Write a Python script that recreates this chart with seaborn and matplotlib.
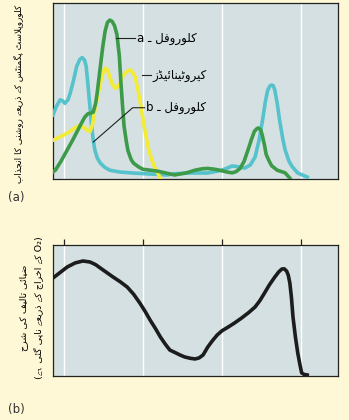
import matplotlib
matplotlib.use('Agg')
import matplotlib.pyplot as plt
from matplotlib import font_manager, ft2font
import pandas as pd
import seaborn as sns

# (a) absorption spectra: wavelength (nm) vs relative absorbance
chl_a_nm = [386, 389, 396, 404, 412, 420, 426, 430, 434, 437, 440, 442, 446, 449, 452, 455, 458, 461, 464, 467,
            470, 472, 474, 476, 479, 481, 485, 488, 494, 500, 518, 540, 555, 566, 575, 582, 590, 597, 606, 613,
            618, 623, 628, 633, 637, 641, 644, 646, 649, 651, 654, 656, 660, 663, 670, 680, 686]
chl_a_abs = [0.04, 0.05, 0.10, 0.165, 0.23, 0.30, 0.35, 0.37, 0.375, 0.38, 0.43, 0.49, 0.64, 0.75, 0.84, 0.89,
             0.903, 0.895, 0.87, 0.82, 0.70, 0.55, 0.42, 0.30, 0.21, 0.16, 0.11, 0.09, 0.07, 0.055, 0.045, 0.023,
             0.035, 0.05, 0.058, 0.06, 0.056, 0.05, 0.04, 0.035, 0.042, 0.06, 0.10, 0.165, 0.22, 0.27, 0.285,
             0.29, 0.28, 0.25, 0.19, 0.14, 0.10, 0.075, 0.05, 0.035, 0.005]

chl_b_nm = [386, 390, 395, 398, 401, 405, 408, 412, 416, 420, 423, 426, 428, 430, 433, 435, 437, 439, 442, 446,
            452, 458, 470, 487, 510, 530, 540, 560, 582, 600, 613, 620, 629, 636, 642, 647, 652, 655, 658, 661,
            663, 665, 667, 670, 673, 677, 680, 685, 689, 696, 708]
chl_b_abs = [0.364, 0.41, 0.45, 0.445, 0.43, 0.45, 0.49, 0.56, 0.64, 0.68, 0.69, 0.675, 0.64, 0.55, 0.40, 0.30,
             0.22, 0.165, 0.12, 0.09, 0.065, 0.05, 0.04, 0.034, 0.028, 0.023, 0.03, 0.034, 0.034, 0.05, 0.074,
             0.07, 0.062, 0.08, 0.125, 0.22, 0.35, 0.44, 0.505, 0.53, 0.534, 0.53, 0.505, 0.43, 0.335, 0.23,
             0.165, 0.10, 0.07, 0.034, 0.011]

carot_nm = [386, 395, 404, 412, 420, 426, 430, 433, 436, 439, 443, 446, 449, 452, 455, 458, 461, 465, 468, 471,
            474, 477, 481, 484, 487, 490, 493, 496, 500, 503, 507, 511, 515, 518, 522]
carot_abs = [0.22, 0.24, 0.26, 0.285, 0.305, 0.29, 0.275, 0.27, 0.31, 0.39, 0.48, 0.545, 0.60, 0.63, 0.62, 0.58,
             0.54, 0.515, 0.525, 0.545, 0.58, 0.60, 0.615, 0.62, 0.605, 0.58, 0.52, 0.45, 0.34, 0.26, 0.17, 0.11,
             0.065, 0.04, 0.005]

# (b) action spectrum: rate of photosynthesis
rate_nm = [386, 395, 404, 414, 424, 433, 440, 446, 454, 462, 471, 480, 488, 496, 503, 509, 516, 522, 528, 534,
           541, 547, 553, 560, 566, 571, 576, 579, 582, 588, 594, 600, 608, 616, 625, 634, 642, 648, 654, 660,
           667, 672, 676, 679, 682, 684, 686, 688, 690, 693, 696, 699, 701, 704, 708]
rate_val = [0.748, 0.79, 0.832, 0.863, 0.878, 0.87, 0.85, 0.824, 0.79, 0.756, 0.72, 0.679, 0.625, 0.557, 0.49,
            0.427, 0.36, 0.298, 0.245, 0.198, 0.178, 0.16, 0.145, 0.135, 0.13, 0.138, 0.16, 0.19, 0.221, 0.27,
            0.313, 0.345, 0.374, 0.405, 0.443, 0.485, 0.527, 0.575, 0.634, 0.695, 0.756, 0.795, 0.817, 0.818,
            0.80, 0.77, 0.71, 0.60, 0.45, 0.30, 0.176, 0.08, 0.023, 0.012, 0.008]

grid_nm = [400, 500, 600, 700]

label_chl_a = 'کلوروفل ـ a'
label_chl_b = 'کلوروفل ـ b'
label_carot = 'کیروٹینائیڈز'
ylabel_a = 'کلوروپلاسٹ پگمنٹس کے ذریعے روشنی کا انجذاب'
ylabel_b1 = 'ضیائی تالیف کی شرح'
ylabel_b2 = 'O₂ کے اخراج کے ذریعے ناپی گئی ہے'

# matplotlib has no Arabic shaping, so pick presentation forms by hand
DUAL = {
    0x0628: (0xFE8F, 0xFE90, 0xFE91, 0xFE92), 0x067E: (0xFB56, 0xFB57, 0xFB58, 0xFB59),
    0x062A: (0xFE95, 0xFE96, 0xFE97, 0xFE98), 0x0679: (0xFB66, 0xFB67, 0xFB68, 0xFB69),
    0x062C: (0xFE9D, 0xFE9E, 0xFE9F, 0xFEA0), 0x062D: (0xFEA1, 0xFEA2, 0xFEA3, 0xFEA4),
    0x062E: (0xFEA5, 0xFEA6, 0xFEA7, 0xFEA8), 0x0633: (0xFEB1, 0xFEB2, 0xFEB3, 0xFEB4),
    0x0634: (0xFEB5, 0xFEB6, 0xFEB7, 0xFEB8), 0x0636: (0xFEBD, 0xFEBE, 0xFEBF, 0xFEC0),
    0x0639: (0xFEC9, 0xFECA, 0xFECB, 0xFECC), 0x0641: (0xFED1, 0xFED2, 0xFED3, 0xFED4),
    0x06A9: (0xFB8E, 0xFB8F, 0xFB90, 0xFB91), 0x06AF: (0xFB92, 0xFB93, 0xFB94, 0xFB95),
    0x0644: (0xFEDD, 0xFEDE, 0xFEDF, 0xFEE0), 0x0645: (0xFEE1, 0xFEE2, 0xFEE3, 0xFEE4),
    0x0646: (0xFEE5, 0xFEE6, 0xFEE7, 0xFEE8), 0x06C1: (0xFBA6, 0xFBA7, 0xFBA8, 0xFBA9),
    0x06BE: (0xFBAA, 0xFBAB, 0xFBAC, 0xFBAD), 0x06CC: (0xFBFC, 0xFBFD, 0xFBFE, 0xFBFF),
    0x0626: (0xFE89, 0xFE8A, 0xFE8B, 0xFE8C), 0x0647: (0xFEE9, 0xFEEA, 0xFEEB, 0xFEEC),
}
RIGHT = {
    0x0627: (0xFE8D, 0xFE8E), 0x062F: (0xFEA9, 0xFEAA), 0x0630: (0xFEAB, 0xFEAC),
    0x0631: (0xFEAD, 0xFEAE), 0x0632: (0xFEAF, 0xFEB0), 0x0688: (0xFB88, 0xFB89),
    0x0691: (0xFB8C, 0xFB8D), 0x0648: (0xFEED, 0xFEEE), 0x06D2: (0xFBAE, 0xFBAF),
}

# look for an installed face with the Urdu-only letters (heh goal, yeh barree)
fonts = [ft2font.FT2Font(font_manager.findfont('DejaVu Sans'))]
families = ['DejaVu Sans']
for entry in font_manager.fontManager.ttflist:
    if entry.name in families:
        continue
    try:
        ft = ft2font.FT2Font(entry.fname)
    except Exception:
        continue
    if ft.get_char_index(0x06D2) and ft.get_char_index(0x06C1):
        fonts.append(ft)
        families.append(entry.name)
        break


def has_glyph(cp):
    return any(f.get_char_index(cp) for f in fonts)


# closest Arabic letters when no face has the Urdu ones
SUBST = {0x06C1: 0x0647, 0x06D2: 0x06CC}


def shape_word(w):
    cps = [ord(c) for c in w]
    cps = [SUBST.get(c, c) if not has_glyph(c) else c for c in cps]
    out = []
    i = 0
    while i < len(cps):
        c = cps[i]
        prev = i > 0 and cps[i - 1] in DUAL and out[-1] != cps[i - 1]
        if c == 0x0644 and i + 1 < len(cps) and cps[i + 1] == 0x0627:
            out.append(0xFEFC if prev else 0xFEFB)
            i += 2
            continue
        if c in DUAL:
            nxt = i + 1 < len(cps) and (cps[i + 1] in DUAL or cps[i + 1] in RIGHT)
            f = DUAL[c]
            form = f[3] if prev and nxt else f[1] if prev else f[2] if nxt else f[0]
        elif c in RIGHT:
            form = RIGHT[c][1] if prev else RIGHT[c][0]
        else:
            form = c
        out.append(form if has_glyph(form) else c)
        i += 1
    return ''.join(chr(c) for c in reversed(out))


def rtl(text):
    vis = []
    for w in reversed(text.split(' ')):
        if any(0x0600 <= ord(ch) <= 0x06FF for ch in w):
            vis.append(shape_word(w))
        else:
            vis.append(w)
    return ' '.join(vis)


plt.rcParams['font.family'] = families

BG = '#fef8d6'
PANEL = '#d4e0e2'

fig = plt.figure(figsize=(3.49, 4.2), dpi=100, facecolor=BG)
ax_a = fig.add_axes([53 / 349, 1 - 179 / 420, 285 / 349, 176 / 420])
ax_b = fig.add_axes([53 / 349, 1 - 376 / 420, 285 / 349, 131 / 420])

spectra = [
    (chl_b_nm, chl_b_abs, '#55c2cc'),
    (carot_nm, carot_abs, '#f4ec34'),
    (chl_a_nm, chl_a_abs, '#3d9a49'),
]
for nm, val, col in spectra:
    df = pd.DataFrame({'nm': nm, 'val': val})
    sns.lineplot(data=df, x='nm', y='val', ax=ax_a, color=col, lw=2.6, estimator=None, sort=False, zorder=3)

df_b = pd.DataFrame({'nm': rate_nm, 'val': rate_val})
sns.lineplot(data=df_b, x='nm', y='val', ax=ax_b, color='#1c1c1c', lw=2.6, estimator=None, sort=False, zorder=3)

for ax in (ax_a, ax_b):
    ax.set_facecolor(PANEL)
    ax.set_xlim(386, 747)
    ax.set_ylim(0, 1)
    for g in grid_nm:
        ax.axvline(g, color='white', lw=1.0, zorder=1)
    ax.set_xlabel('')
    ax.set_ylabel('')
    ax.set_yticks([])
    for s in ax.spines.values():
        s.set_color('#222222')
        s.set_linewidth(0.9)

ax_a.set_xticks([])
ax_b.set_xticks(grid_nm)
ax_b.tick_params(axis='x', top=True, bottom=False, labeltop=False, labelbottom=False,
                 direction='out', length=4, width=0.9, color='#222222')

# leader lines and labels in panel (a)
line_kw = dict(color='#222222', lw=0.8)
ax_a.plot([466, 490], [0.80, 0.80], **line_kw, zorder=4)
ax_a.text(492, 0.80, rtl(label_chl_a), fontsize=8.5, va='center', ha='left')
ax_a.plot([499, 510], [0.59, 0.59], **line_kw, zorder=4)
ax_a.text(512, 0.59, rtl(label_carot), fontsize=8.5, va='center', ha='left')
ax_a.plot([437, 487, 502], [0.21, 0.405, 0.405], **line_kw, zorder=4)
ax_a.text(504, 0.405, rtl(label_chl_b), fontsize=8.5, va='center', ha='left')

fig.text(18 / 349, 1 - 94 / 420, rtl(ylabel_a), rotation=90, fontsize=6.4, ha='center', va='center')
fig.text(31 / 349, 1 - 308 / 420, rtl(ylabel_b1) + '\n(' + rtl(ylabel_b2) + ')', rotation=90,
         fontsize=6.8, ha='center', va='center', multialignment='center', linespacing=1.6)

fig.text(8 / 349, 1 - 197 / 420, '(a)', fontsize=8.5, ha='left', va='center', color='#333333')
fig.text(8 / 349, 1 - 410 / 420, '(b)', fontsize=8.5, ha='left', va='center', color='#333333')

fig.savefig('out.png', dpi=100, facecolor=BG)
